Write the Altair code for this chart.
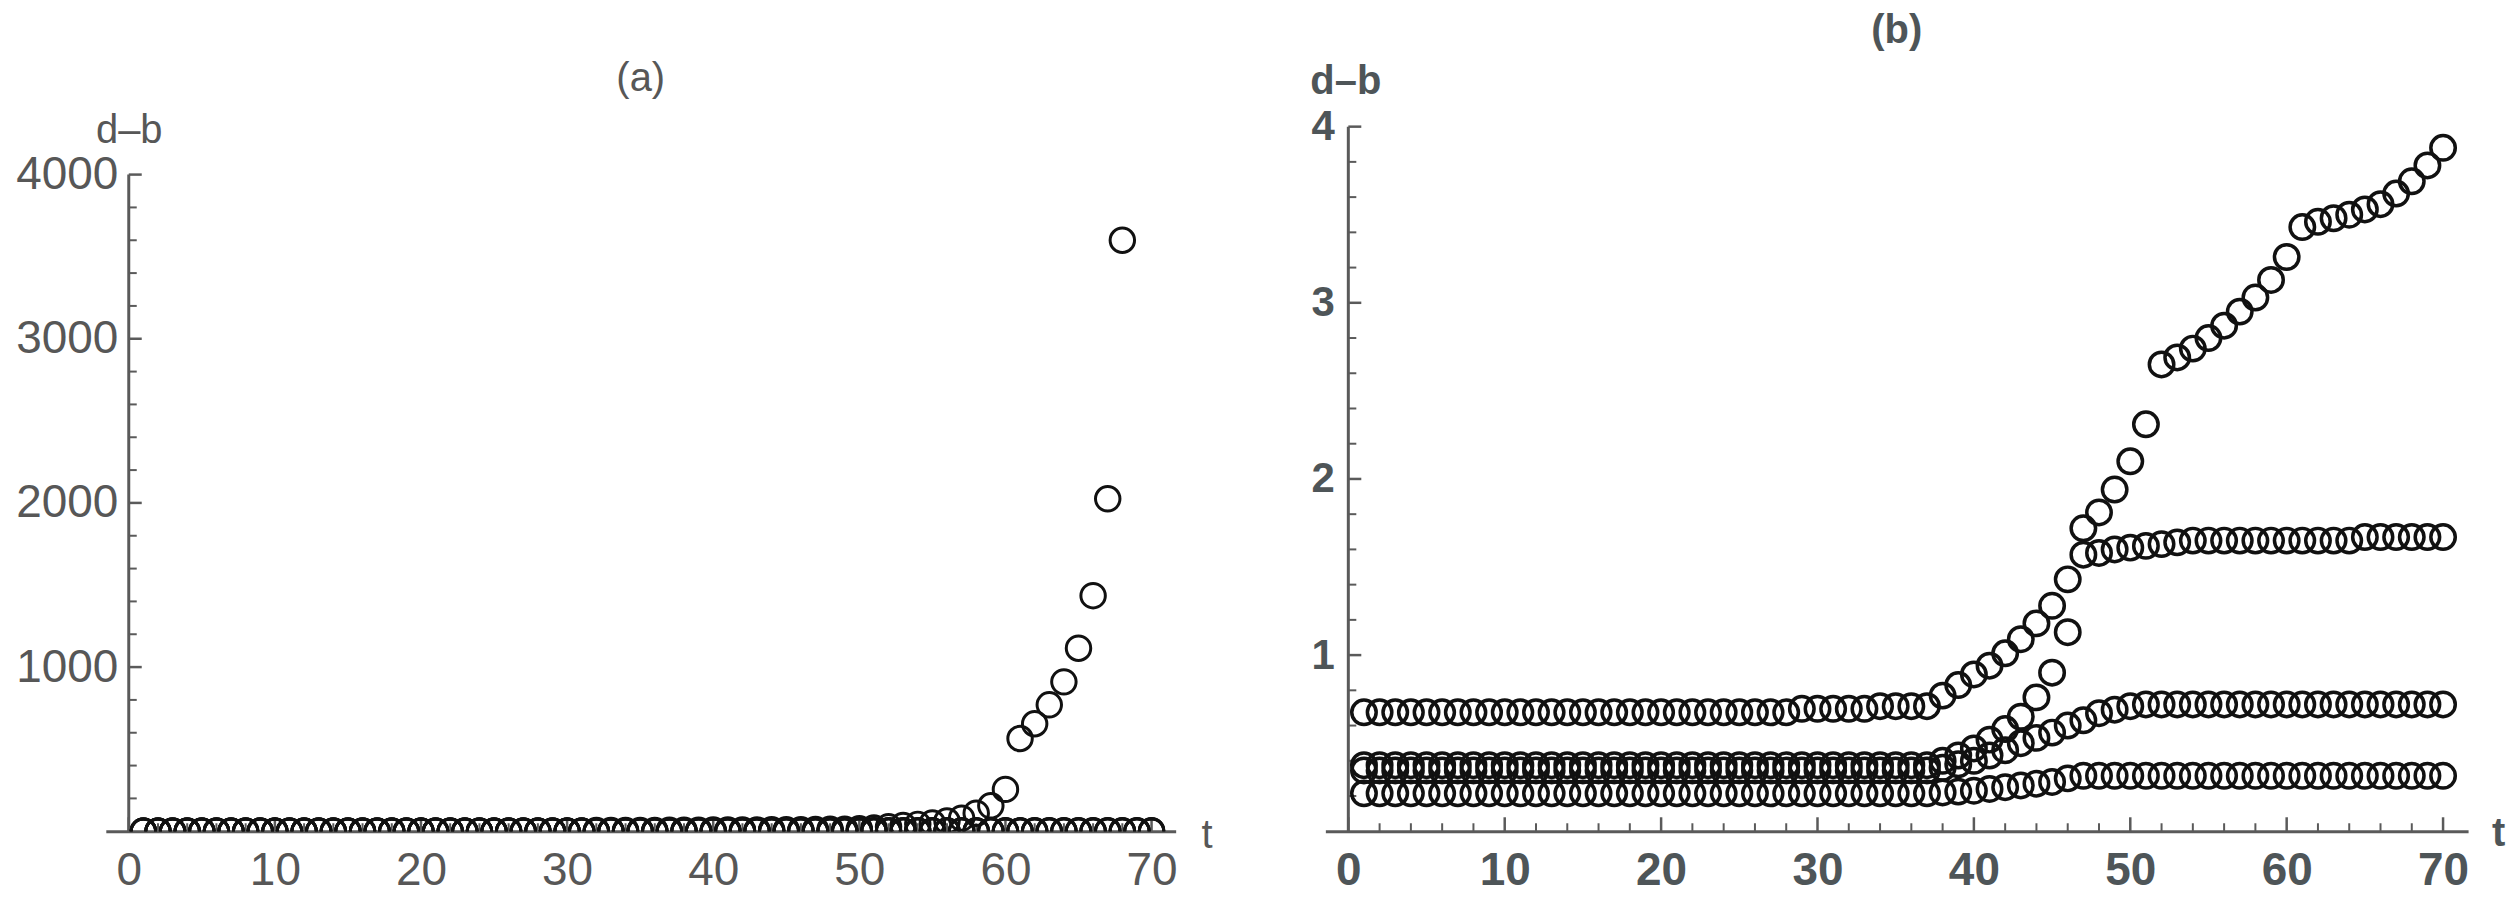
import altair as alt
import pandas as pd

# ---------------- data ----------------
T = list(range(1, 71))

# panel (a): one series blows up, the others stay near zero
a_burst = ([1.0] * 31
           + [4, 4, 5, 5, 5, 6, 6, 6, 7, 7, 8, 8, 9, 9, 10, 11, 12, 13]
           + [15, 20, 28, 35, 42, 50, 62, 80, 110, 155, 255, 565, 655, 770,
              910, 1115, 1435, 2025, 3600])
a_low1 = [0.7] * 37 + [0.8, 0.9, 1.0, 1.1, 1.3, 1.4, 1.5, 1.7, 1.9, 2.0, 2.1, 2.3, 2.5, 2.6, 2.8, 3.0] + [3.2] * 17
a_low2 = [0.35] * 37 + [0.4, 0.45, 0.5, 0.6, 0.7, 0.8, 1.0, 1.2, 1.4, 1.5] + [1.6] * 23
a_low3 = [0.2] * 37 + [0.22, 0.24, 0.26, 0.28, 0.3] + [0.32] * 28

# panel (b): four series
b_s1 = ([0.675] * 28 + [0.695] * 5 + [0.71] * 4
        + [0.77, 0.83, 0.89, 0.94, 1.01, 1.09, 1.18, 1.28, 1.43, 1.72, 1.81,
           1.94, 2.10, 2.31, 2.65, 2.69, 2.74, 2.80, 2.87, 2.95, 3.03, 3.13,
           3.26, 3.43, 3.46, 3.48, 3.50, 3.53, 3.56, 3.62, 3.69, 3.78, 3.88])
b_s2 = ([0.375] * 37
        + [0.40, 0.43, 0.47, 0.52, 0.58, 0.65, 0.76, 0.90, 1.13, 1.57, 1.58,
           1.60, 1.61, 1.62, 1.63, 1.64]
        + [1.65] * 11 + [1.67] * 6)
b_s3 = ([0.345] * 37
        + [0.36, 0.38, 0.40, 0.43, 0.46, 0.50, 0.53, 0.56, 0.60, 0.63, 0.67,
           0.69, 0.71]
        + [0.72] * 20)
b_s4 = ([0.215] * 37
        + [0.22, 0.225, 0.23, 0.24, 0.25, 0.26, 0.27, 0.28, 0.30]
        + [0.315] * 24)

x_labels = [0, 10, 20, 30, 40, 50, 60, 70]
x_minor = [2, 4, 6, 8, 12, 14, 16, 18, 22, 24, 26, 28, 32, 34, 36, 38, 42, 44, 46, 48,
           52, 54, 56, 58, 62, 64, 66, 68]
a_y_labels = [1000, 2000, 3000, 4000]
a_y_minor = [200, 400, 600, 800, 1200, 1400, 1600, 1800, 2200, 2400, 2600, 2800,
             3200, 3400, 3600, 3800]
b_y_labels = [1, 2, 3, 4]
b_y_minor = [0.2, 0.4, 0.6, 0.8, 1.2, 1.4, 1.6, 1.8, 2.2, 2.4, 2.6, 2.8,
             3.2, 3.4, 3.6, 3.8]


def long_frame(series):
    rows = []
    for name, vals in series.items():
        for t, v in zip(T, vals):
            rows.append({"t": t, "v": v, "series": name})
    return pd.DataFrame(rows)


df_a = long_frame({"burst": a_burst, "low1": a_low1, "low2": a_low2, "low3": a_low3})
df_b = long_frame({"s1": b_s1, "s2": b_s2, "s3": b_s3, "s4": b_s4})

# ---------------- style ----------------
FONT = "Liberation Sans"
AX = "#5a5a5a"
H = 706


def panel(df, width, xdom, ydom, ymax_axis, ylabels, yminor, ylab_size,
          ylab_pad, dby, dbx, tx, ty, title, title_y, clip, weight, stroke_w,
          lab_color):
    t0_px = (0 - xdom[0]) / (xdom[1] - xdom[0]) * width
    X = alt.X("t:Q",
              scale=alt.Scale(domain=xdom, nice=False, zero=False),
              axis=alt.Axis(values=x_labels, format="d", domain=True,
                            domainColor=AX, domainWidth=3, ticks=False,
                            tickSize=0, labelPadding=17, labelFontSize=46,
                            labelFont=FONT, labelColor=lab_color,
                            labelFontWeight=weight, labelFlush=False,
                            grid=False, title="t", titleX=tx, titleY=ty,
                            titleAngle=0, titleAlign="center",
                            titleBaseline="alphabetic", titleFont=FONT,
                            titleFontSize=40, titleFontWeight=weight,
                            titleColor=lab_color))
    Y = alt.Y("v:Q",
              scale=alt.Scale(domain=ydom, nice=False, zero=False),
              axis=alt.Axis(values=ylabels, format="d", orient="left",
                            offset=-t0_px, domain=False, ticks=False,
                            tickSize=0, labelPadding=ylab_pad,
                            labelFontSize=ylab_size, labelFont=FONT,
                            labelColor=lab_color, labelFontWeight=weight,
                            grid=False, title="d–b", titleAngle=0,
                            titleX=dbx, titleY=dby, titleAlign="center",
                            titleBaseline="alphabetic", titleFont=FONT,
                            titleFontSize=40, titleFontWeight=weight,
                            titleColor=lab_color))

    yline = alt.Chart(pd.DataFrame({"t": [0], "v": [0], "v2": [ymax_axis]})).mark_rule(
        color=AX, strokeWidth=3).encode(x=X, y=Y, y2="v2:Q")

    ymaj = alt.Chart(pd.DataFrame({"v": ylabels})).mark_rule(color=AX, strokeWidth=2.5).encode(
        y=Y, x=alt.value(t0_px), x2=alt.value(t0_px + 13))
    ymin = alt.Chart(pd.DataFrame({"v": yminor})).mark_rule(color=AX, strokeWidth=2).encode(
        y=Y, x=alt.value(t0_px), x2=alt.value(t0_px + 8))
    xmaj = alt.Chart(pd.DataFrame({"t": x_labels})).mark_rule(color=AX, strokeWidth=2.5).encode(
        x=X, y=alt.value(H), y2=alt.value(H - 14))
    xmin = alt.Chart(pd.DataFrame({"t": x_minor})).mark_rule(color=AX, strokeWidth=2).encode(
        x=X, y=alt.value(H), y2=alt.value(H - 8))

    pts = alt.Chart(df).mark_point(shape="circle", filled=False, size=600,
                                   strokeWidth=stroke_w, color="#111111",
                                   opacity=1, clip=clip).encode(
        x=X, y=Y, detail="series:N")

    ttl = alt.Chart(pd.DataFrame({"label": [title]})).mark_text(
        font=FONT, fontSize=40, color=lab_color, fontWeight=weight,
        baseline="middle", align="center").encode(
        text="label:N", x=alt.value(width / 2), y=alt.value(title_y))

    return alt.layer(yline, ymaj, ymin, xmaj, xmin, pts, ttl).properties(width=width, height=H)


W_A = 1072
W_B = 1145
panel_a = panel(df_a, W_A, [-1.571, 71.65], [0, 4292], 4000, a_y_labels, a_y_minor,
                46, 11, 16, 0, 1103, 16, "(a)", -48, True, "normal", 3, "#575757")
panel_b = panel(df_b, W_B, [-1.468, 71.6], [0, 4.0], 4.0, b_y_labels, b_y_minor,
                42, 14, -33, -3, 1175, 14, "(b)", -96, False, "bold", 3.5, "#4e5558")

chart = alt.hconcat(panel_a, panel_b, spacing=150, bounds="flush").properties(
    padding={"left": 7, "top": 2, "right": 5, "bottom": 5}
).configure_view(strokeWidth=0)

chart.save("out.html", embed_options={"renderer": "svg", "actions": False})
